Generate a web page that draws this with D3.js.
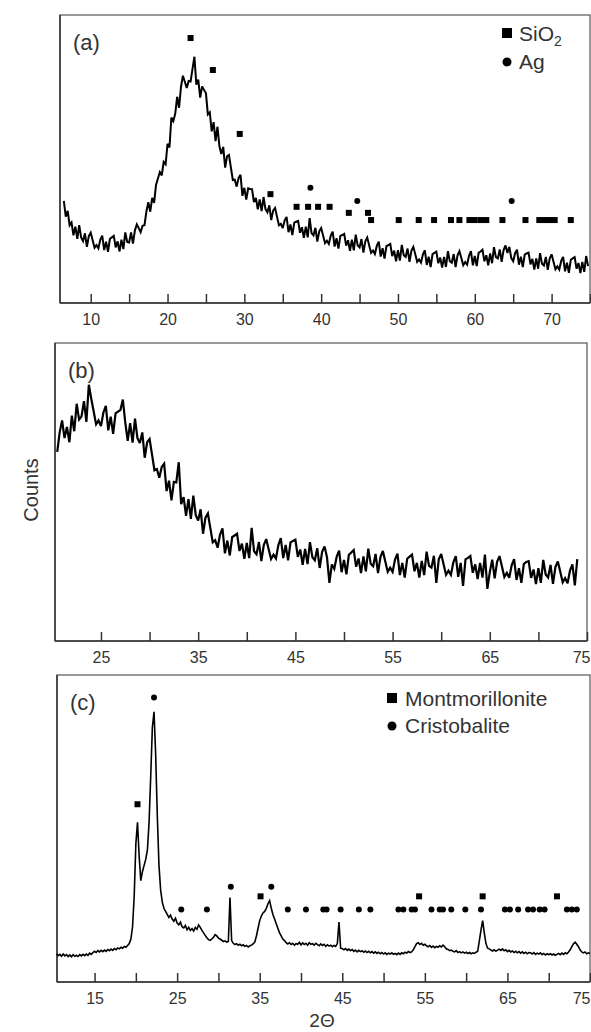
<!DOCTYPE html>
<html>
<head>
<meta charset="utf-8">
<script src="https://cdn.jsdelivr.net/npm/d3@7"></script>
<style>
  body { margin: 0; background: #fff; }
  text { font-family: "Liberation Sans", Arial, sans-serif; fill: #333; }
  .trace { fill: none; stroke: #000; stroke-linejoin: miter; stroke-miterlimit: 3; }
  .frame { fill: none; stroke: #555; stroke-width: 1.2px; }
  .axis path, .axis line { stroke: #333; stroke-width: 1.5px; }
  .axis text { font-size: 16px; fill: #333; }
</style>
</head>
<body>
<script>
// ---- panel (a): scan from 6.5 deg, 0.25 deg step (counts, arbitrary units)
var startA = 6.5, stepA = 0.25;
var countsA = [
  35.5, 30,
  32, 27, 28, 23.5,       26.5, 22.3, 27, 22.8,     21.5, 24.2, 19.5, 23.2,   24.4, 21.8, 19.2, 20.1,
  19, 22, 23.4, 18.4,     21.3, 17.8, 22.3, 22.8,   23.3, 19.3, 21.4, 17.9,   22, 18.7, 24.5, 21.2,
  21, 24.5, 20.6, 25.2,   27.3, 26, 24.6, 26.8,     27, 31.8, 35, 31.7,       36.5, 34.8, 41, 43.2,
  45.5, 44.3, 49, 48.2,   55.3, 54, 64.4, 63.2,     65.7, 71.6, 67.8, 75,     78.9, 76.8, 74.7, 77.1,
  76.9, 81.3, 85.5, 75.8, 77.6, 71.3, 75.2, 74,     72.8, 65.5, 66.2, 59.6,   62.8, 56.2, 61.2, 54.5,
  51.7, 54.2, 47, 50.9,   51.4, 47, 42.7, 42.8,     40.4, 43.4, 44.5, 37.2,   40, 35.9, 39.8, 39.6,
  39.5, 35, 36.5, 32.5,   36, 31.9, 36.8, 32.6,     31.5, 33.9, 28.8, 32.1,   33, 30, 27, 27.5,
  26, 28.7, 29.9, 24.6,   27.3, 23.6, 27.9, 28.2,   28.5, 24.4, 26.3, 22.6,   26.5, 22.8, 29.5, 24.3,
  23.5, 26.1, 21.3, 24.9, 26, 23.4, 20.8, 21.6,     20.5, 23.4, 24.8, 19.6,   22.5, 18.9, 23.3, 23.6,
  24, 19.9, 21.8, 18.1,   22, 18.3, 23.7, 20,       19.3, 22.2, 17.5, 21.4,   22.7, 20, 17.4, 18.2,
  17, 19.9, 21.3, 16.1,   19, 15.4, 19.8, 20.1,     20.5, 16.3, 18.2, 14.5,   18.3, 14.7, 20.2, 16.6,
  16, 18.9, 14.3, 18.1,   19.5, 16.9, 14.3, 15.1,   14, 16.9, 18.3, 13.2,     16.1, 12.5, 17, 17.4,
  17.8, 13.8, 15.8, 12.3, 16, 12.5, 18, 14.5,       14, 17, 12.5, 16.5,       18, 15.6, 13.1, 14.2,
  13.3, 16.4, 18, 13.1,   16.3, 12.8, 17.4, 17.9,   18.5, 14.5, 16.6, 13.1,   17.2, 13.8, 19.4, 15.9,
  15.5, 18.6, 14.3, 18.4, 20, 17.4, 19.5, 15.6,     14.5, 17.3, 18.5, 13.3,   16.1, 12.5, 16.8, 17.2,
  17.5, 13.4, 15.3, 11.6, 15.5, 11.9, 17.3, 13.6,   13, 16, 11.5, 15.4,       16.9, 14.3, 11.7, 12.7,
  11.6, 14.6, 16, 11,     14, 10.5, 15, 15.5,       15.9, 11.9, 13.9, 10.4,   14.3, 10.8, 16.3, 12.8
];
var sio2Theta = [23.0, 25.9, 29.4, 33.4, 36.8, 38.3, 39.6, 41.1, 43.6, 46.1, 46.5, 50.1, 52.7, 54.7,
                 56.9, 58.0, 59.3, 60.0, 60.8, 61.5, 63.6, 66.6, 68.4, 69.1, 69.7, 70.4, 72.5];
var sio2Level = [92, 80.9, 58.7, 37.8, 33.4, 33.4, 33.4, 33.4, 31.3, 31.3, 28.8, 28.8, 28.8, 28.8,
                 28.8, 28.8, 28.8, 28.8, 28.8, 28.8, 28.8, 28.8, 28.8, 28.8, 28.8, 28.8, 28.8];
var agTheta = [38.6, 44.7, 64.8];
var agLevel = [40, 35.4, 35.4];

// ---- panel (b): scan from 20.5 deg, 0.25 deg step
var startB = 20.5, stepB = 0.25;
var countsB = [
  63.5, 70,
  74, 68.1, 71.8, 66.7,   75.6, 70.4, 79.6, 74.3,   75.4, 80.5, 73.5, 86,     81.3, 77, 72.7, 74,
  72.1, 76.7, 78.9, 70.7, 75.3, 69.5, 76.4, 77,     77.5, 81, 73.3, 67.2,     73.1, 66.6, 74.6, 68.1,
  66.4, 70, 61.5, 66.7,   67.8, 62.6, 57.3, 57.7,   54.8, 58.4, 59.5, 50.3,   53.8, 47.2, 53.4, 53.2,
  60, 45.9, 48.3, 42,     47.6, 41, 48.8, 42.2,     40.4, 44.2, 36, 41.4,     42.8, 37.9, 33.1, 33.8,
  31.3, 35.7, 37.8, 29.4, 33.7, 28.7, 34.9, 35.4,   36, 30.2, 32.7, 27.6,     32.9, 27.8, 38, 30.1,
  29.1, 33.2, 26.8, 32.2, 34.2, 30.8, 27.5, 29,     27.7, 32.2, 34.5, 27.8,   32.2, 27.1, 33.1, 33.6,
  34, 28.2, 30.7, 25.6,   30.9, 25.8, 33.2, 28.1,   27.1, 31.1, 24.5, 29.9,   31.7, 28.1, 19.5, 25.7,
  24.2, 28.3, 30.3, 23.1, 27.2, 22.4, 28.9, 29.7,   30.5, 24.9, 27.7, 22.8,   28.4, 23.4, 31, 25.9,
  25.1, 29.2, 22.8, 28.2, 30.2, 26.7, 23.2, 24.6,   23.2, 27.3, 29.3, 22.1,   26.2, 21.3, 27.6, 28.3,
  29, 23.4, 26.2, 21.3,   26.9, 22.1, 30, 25.2,     24.6, 28.6, 19.5, 27.4,   29.2, 25.7, 22.2, 23.6,
  22.2, 26.4, 28.5, 21.5, 26.2, 18.5, 27.4, 27.9,   28.5, 22.9, 25.7, 20.8,   26.2, 21.3, 29, 17.5,
  23.1, 27.3, 21, 26.6,   28.5, 25, 21.5, 22.9,     21.2, 25.4, 27.5, 20.5,   24.4, 19.5, 25.8, 26.5,
  26.8, 21.2, 24, 19.1,   24.4, 19.5, 27.2, 22.3,   21.3, 25.5, 19.2, 24.8,   26.7, 23.2, 19.7, 21.1,
  19.4, 23.6, 25.7, 18.7, 27.5
];

// ---- panel (c): scan from 10.4 deg, 0.2 deg step
var startC = 10.4, stepC = 0.2;
var countsC = [
  9.2, 8.6, 9.0,
  8.4, 9.1, 8.5, 8.9, 8.3,   8.8, 8.2, 8.9, 8.4, 8.7,   8.3, 8.9, 8.5, 9.0, 8.6,   9.1, 8.7, 9.4, 9.0, 9.6,
  10.0, 9.6, 10.2, 9.8, 10.3, 9.9, 10.4, 10.0, 10.6, 10.2, 10.7, 10.3, 10.9, 10.5, 11.1, 10.8, 11.3, 11.0, 11.6, 11.3,
  11.9, 12.5, 14.0, 18.0, 28.0, 45.0, 52.0, 41.0, 33.0, 36.0, 38.0, 40.0, 43.0, 52.0, 67.0, 83.0, 88.0, 74.0, 54.0, 38.0,
  30.0, 26.0, 24.0, 23.0, 22.0, 21.0, 21.8, 20.5, 19.8, 20.8, 19.2, 18.6, 19.5, 18.0, 17.6, 18.4, 17.0, 17.8, 16.8, 17.4,
  16.6, 17.8, 17.2, 18.6, 17.8, 16.8, 16.0, 15.2, 14.4, 13.8, 13.6, 14.0, 14.6, 15.4, 15.0, 14.3, 14.0, 13.6, 13.2, 13.4,
  13.0, 13.2, 27.5, 13.5, 12.6, 12.2, 12.5, 12.0, 12.3, 11.8, 12.1, 11.6, 11.9, 11.4, 11.8, 12.0, 12.4, 13.0, 15.0, 17.5,
  20.0, 21.5, 22.5, 23.0, 24.0, 25.5, 26.5, 24.0, 22.0, 20.5, 19.0, 17.5, 16.0, 15.0, 14.0, 13.5, 12.8, 12.4, 12.8, 12.2,
  12.6, 12.0, 12.5, 12.3, 12.9, 12.1, 12.7, 12.2, 12.6, 12.0, 12.8, 12.3, 12.5, 12.0, 12.6, 12.2, 11.8, 12.4, 11.9, 12.3,
  11.6, 12.1, 11.7, 12.0, 11.5, 11.9, 11.6, 12.5, 19.5, 11.0, 10.8, 10.5, 10.9, 10.3, 10.7, 10.2, 10.6, 10.0, 10.4, 9.8,
  10.3, 9.9, 10.2, 9.7, 10.1, 9.6, 10.0, 9.5, 9.9, 9.4, 9.8, 9.3, 9.7, 9.2, 9.6, 9.1, 9.5, 9.0, 9.4, 9.1,
  9.5, 9.0, 9.3, 8.9, 9.4, 9.0, 9.5, 9.2, 9.7, 9.4, 9.9, 9.6, 9.8, 10.5, 11.5, 12.5, 12.8, 12.2, 12.6, 12.0,
  12.3, 11.8, 11.5, 11.9, 11.3, 11.7, 11.2, 11.6, 11.3, 11.8, 11.4, 12.0, 11.5, 10.8, 10.6, 10.2, 10.4, 10.0, 9.8, 10.2,
  9.6, 9.9, 9.5, 9.8, 9.4, 9.7, 9.3, 9.6, 9.2, 9.5, 9.3, 9.7, 10.0, 13.5, 17.0, 20.0, 16.0, 12.5, 11.0, 10.8,
  10.4, 10.1, 10.5, 10.0, 10.4, 10.7, 10.3, 10.8, 10.2, 10.5, 9.9, 10.3, 9.8, 10.1, 9.6, 10.0, 9.5, 9.9, 9.4, 9.8,
  9.3, 9.7, 9.2, 9.6, 9.5, 9.1, 9.6, 9.0, 9.4, 9.1, 9.5, 8.9, 9.3, 8.8, 9.2, 8.9, 9.2, 8.8, 9.1, 8.7,
  9.0, 9.3, 8.9, 9.4, 9.0, 9.5, 9.2, 9.8, 10.5, 11.5, 12.5, 13.0, 12.3, 11.5, 10.5, 9.8, 9.5, 9.8, 9.2, 9.5,
  9.3
];
var montTheta = [20.2, 35.1, 54.3, 62.0, 71.0];
var montLevel = [57.9, 27.9, 27.9, 27.9, 27.9];
var cristTheta = [22.2, 31.5, 36.4, 25.5, 28.6, 38.4, 40.6, 42.7, 43.1, 44.8, 47.0, 48.4, 51.8, 52.4, 53.4, 53.8,
                  55.8, 56.8, 57.2, 58.2, 59.9, 61.8, 64.7, 65.3, 66.3, 67.5, 68.1, 68.9, 69.5, 72.2, 72.8, 73.4];
var cristLevel = [92.7, 31, 31, 23.6, 23.6, 23.6, 23.6, 23.6, 23.6, 23.6, 23.6, 23.6, 23.6, 23.6, 23.6, 23.6,
                  23.6, 23.6, 23.6, 23.6, 23.6, 23.6, 23.6, 23.6, 23.6, 23.6, 23.6, 23.6, 23.6, 23.6, 23.6, 23.6];

var width = 591, height = 1032;
var svg = d3.select('body').append('svg').attr('width', width).attr('height', height);

function scan(start, step, counts) {
  return counts.map(function(c, i) { return { t: start + i * step, c: c }; });
}
function zip(th, lv) {
  return th.map(function(t, i) { return { t: t, c: lv[i] }; });
}

function panel(p) {
  var x = d3.scaleLinear().domain(p.dom).range([p.left, p.right]);
  var y = d3.scaleLinear().domain([0, 100]).range([p.bottom, p.top]);
  var g = svg.append('g');

  g.append('rect').attr('class', 'frame')
    .attr('x', p.left).attr('y', p.top)
    .attr('width', p.right - p.left).attr('height', p.bottom - p.top);

  var ticks = d3.range(p.firstTick, 75.01, 5);
  var axis = d3.axisBottom(x).tickValues(ticks).tickSizeInner(-9).tickSizeOuter(0).tickPadding(11)
    .tickFormat(function(d) { return ((d - p.firstLabel) % 10 === 0) ? d : ''; });
  g.append('g').attr('class', 'axis')
    .attr('transform', 'translate(0,' + p.bottom + ')')
    .call(axis)
    .call(function(s) {
      s.select('.domain').attr('d', 'M' + p.left + ',0H' + p.right);
      // keep a label that sits on the right edge inside the picture
      s.selectAll('.tick text').filter(function(d) { return x(d) > width - 12; })
        .attr('text-anchor', 'end').attr('x', function(d) { return width - 1 - x(d); });
    });
  g.append('line').attr('x1', p.left).attr('x2', p.left).attr('y1', p.top).attr('y2', p.bottom)
    .attr('stroke', '#333').attr('stroke-width', 1.5);

  var line = d3.line().x(function(d) { return x(d.t); }).y(function(d) { return y(d.c); });
  g.append('path').attr('class', 'trace').style('stroke-width', p.stroke + 'px').attr('d', line(p.data));

  (p.squares || []).forEach(function(d) {
    g.append('rect').attr('x', x(d.t) - 3).attr('y', y(d.c) - 3)
      .attr('width', 6).attr('height', 6).attr('fill', '#000');
  });
  (p.circles || []).forEach(function(d) {
    g.append('circle').attr('cx', x(d.t)).attr('cy', y(d.c)).attr('r', 3).attr('fill', '#000');
  });

  g.append('text').attr('x', p.left + 13).attr('y', p.top + 35)
    .style('font-size', '22px').text(p.tag);
  return g;
}

var ga = panel({ left: 60, right: 590, top: 15, bottom: 303, dom: [6, 75],
  firstTick: 10, firstLabel: 10, tag: '(a)', stroke: 2,
  data: scan(startA, stepA, countsA),
  squares: zip(sio2Theta, sio2Level), circles: zip(agTheta, agLevel) });

var gb = panel({ left: 55, right: 587, top: 343, bottom: 641, dom: [20.27, 75],
  firstTick: 25, firstLabel: 25, tag: '(b)', stroke: 2.2,
  data: scan(startB, stepB, countsB) });

var gc = panel({ left: 57, right: 590, top: 675, bottom: 982, dom: [10.45, 75],
  firstTick: 15, firstLabel: 15, tag: '(c)', stroke: 1.6,
  data: scan(startC, stepC, countsC),
  squares: zip(montTheta, montLevel), circles: zip(cristTheta, cristLevel) });

// legends
ga.append('rect').attr('x', 502).attr('y', 28).attr('width', 10).attr('height', 10).attr('fill', '#000');
ga.append('text').attr('x', 519).attr('y', 41).style('font-size', '21px')
  .text('SiO').append('tspan').attr('dy', 5).style('font-size', '14px').text('2');
ga.append('circle').attr('cx', 507).attr('cy', 62).attr('r', 4.5).attr('fill', '#000');
ga.append('text').attr('x', 519).attr('y', 69).style('font-size', '21px').text('Ag');

gc.append('rect').attr('x', 387).attr('y', 693).attr('width', 10).attr('height', 10).attr('fill', '#000');
gc.append('text').attr('x', 405).attr('y', 706).style('font-size', '21px').text('Montmorillonite');
gc.append('circle').attr('cx', 392).attr('cy', 726).attr('r', 4.5).attr('fill', '#000');
gc.append('text').attr('x', 405).attr('y', 733).style('font-size', '21px').text('Cristobalite');

// axis titles
svg.append('text').attr('transform', 'translate(38,490) rotate(-90)')
  .attr('text-anchor', 'middle').style('font-size', '20px').text('Counts');
svg.append('text').attr('x', 322).attr('y', 1027)
  .attr('text-anchor', 'middle').style('font-size', '19px').text('2Θ');
</script>
</body>
</html>
